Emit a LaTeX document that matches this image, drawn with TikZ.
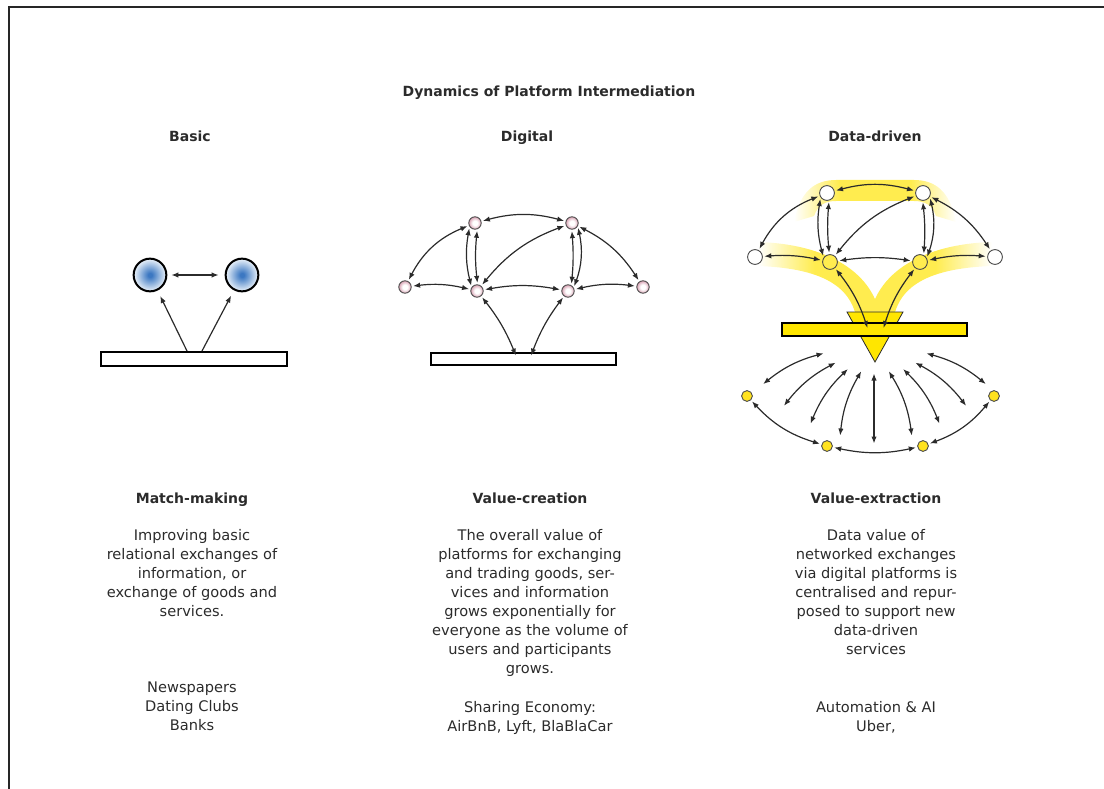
\documentclass[tikz,border=0pt]{standalone}
\usepackage{fontspec}
\setmainfont{DejaVu Sans}
\usetikzlibrary{arrows.meta}
\definecolor{platink}{HTML}{2B2B2B}
\definecolor{ballblue}{HTML}{3C78C2}
\definecolor{ballpale}{HTML}{DCE8F5}
\definecolor{ringpink}{HTML}{D8A2B3}
\definecolor{ybright}{HTML}{FFE600}
\definecolor{yband}{HTML}{FFEC4F}
\definecolor{dotyellow}{HTML}{FFE21F}
% the middle 50bp of each shading is stretched over the path
\pgfdeclareradialshading{blueball}{\pgfpointorigin}{color(0bp)=(ballblue); color(3bp)=(ballblue); color(23bp)=(ballpale); color(50bp)=(ballpale)}
\pgfdeclareradialshading{pinkball}{\pgfpointorigin}{color(0bp)=(white); color(10bp)=(white); color(25bp)=(ringpink); color(50bp)=(ringpink)}
\pgfdeclarehorizontalshading{bandL}{100bp}{color(0bp)=(white); color(25bp)=(white); color(48bp)=(yband); color(100bp)=(yband)}
\pgfdeclarehorizontalshading{bandR}{100bp}{color(0bp)=(yband); color(52bp)=(yband); color(75bp)=(white); color(100bp)=(white)}
\pgfdeclarehorizontalshading{bandLR}{100bp}{color(0bp)=(white); color(25bp)=(white); color(39bp)=(yband); color(61bp)=(yband); color(75bp)=(white); color(100bp)=(white)}
\tikzset{
  hd/.style={font=\fontsize{14}{17}\selectfont\bfseries, text=platink, inner sep=0pt, anchor=base},
  body/.style={font=\fontsize{14.6}{18.9}\selectfont, text=platink, align=center, inner sep=0pt, anchor=north},
  bball/.style={circle, draw=black, line width=2pt, minimum size=32.7pt, inner sep=0pt, shading=blueball},
  pball/.style={circle, draw=platink!85, line width=0.9pt, minimum size=12.4pt, inner sep=0pt, shading=pinkball},
  wball/.style={circle, draw=platink!85, line width=0.9pt, minimum size=14.8pt, inner sep=0pt, fill=white},
  yball/.style={wball, fill=yband},
  sball/.style={circle, draw=platink!85, line width=0.9pt, minimum size=10.8pt, inner sep=0pt, fill=dotyellow},
  plat/.style={draw=black, line width=2pt, fill=white, minimum width=185pt, minimum height=12pt, inner sep=0pt},
  arr/.style={-{Latex[length=7pt,width=5.4pt]}, line width=1.2pt, draw=platink},
  arr2/.style={{Latex[length=7pt,width=5.4pt]}-{Latex[length=7pt,width=5.4pt]}, line width=1.2pt, draw=platink, shorten <=1.5pt, shorten >=1.5pt},
}
\begin{document}
\begin{tikzpicture}[x=1pt, y=-1pt]
  \useasboundingbox (0,0) rectangle (1104,789);
  \draw[line width=2pt, black!85] (9,800) -- (9,7) -- (1110,7);

  % titles
  \node[hd] (title) at (549,96.5) {Dynamics of Platform Intermediation};
  \node[hd] (hbasic) at (190,142) {Basic};
  \node[hd] (hdigital) at (527,142) {Digital};
  \node[hd] (hdata) at (875,142) {Data-driven};

  % basic
  \node[bball] (bl) at (150,275) {};
  \node[bball] (br) at (242,275) {};
  \node[plat, minimum width=186pt, minimum height=14pt] (bbar) at (194,359) {};
  \draw[arr2, shorten <=4pt, shorten >=6pt] (bl) -- (br);
  \draw[arr, shorten >=6pt] ([xshift=-7pt]bbar.north) -- (bl);
  \draw[arr, shorten >=6pt] ([xshift=8pt]bbar.north) -- (br);

  % digital
  \node[pball] (t1) at (475,223) {};
  \node[pball] (t2) at (572,223) {};
  \node[pball] (m0) at (405,287) {};
  \node[pball] (m1) at (477,291) {};
  \node[pball] (m2) at (568,291) {};
  \node[pball] (m3) at (643,287) {};
  \node[plat] (dbar) at (523.5,359) {};
  \draw[arr2] (t1) to[bend left=15] (t2);
  \draw[arr2] (t1) to[bend right=20] (m0);
  \draw[arr2] (t1.215) to[bend right=12] (m1.145);
  \draw[arr2] (t1.290) to[bend right=6] (m1.85);
  \draw[arr2] (t2.268) to[bend left=5] (m2.60);
  \draw[arr2] (t2.330) to[bend left=16] (m2.30);
  \draw[arr2] (t2) to[bend right=15] (m1);
  \draw[arr2] (t2) to[bend left=15] (m3);
  \draw[arr2] (m0) to[bend left=10] (m1);
  \draw[arr2] (m1) to[bend left=10] (m2);
  \draw[arr2] (m2) to[bend left=10] (m3);
  \draw[arr2] (m1) to[bend left=8] ([xshift=-7pt,yshift=2pt]dbar.center);
  \draw[arr2] (m2) to[bend right=8] ([xshift=7pt,yshift=2pt]dbar.center);

  % data-driven
  \path[shading=bandLR] (794,222) .. controls (800,191) and (815,180) .. (836,180) -- (914,180)
    .. controls (935,180) and (950,191) .. (956,222) -- (936,216) .. controls (932,205) and (925,201) .. (914,201)
    -- (836,201) .. controls (825,201) and (818,205) .. (814,216) -- cycle;
  \path[shading=bandL] (758,242) .. controls (826,244) and (876,272) .. (881,322) -- (857,322)
    .. controls (852,282) and (814,268) .. (758,266) -- cycle;
  \path[shading=bandR] (992,242) .. controls (924,244) and (874,272) .. (869,322) -- (893,322)
    .. controls (898,282) and (936,268) .. (992,266) -- cycle;
  \draw[draw=platink, line width=0.8pt, fill=ybright] (847,312) -- (903,312) -- (875,362) -- cycle;
  \node[plat, fill=ybright, minimum height=13pt] (ybar) at (874.5,329.5) {};
  \node[wball] (u1) at (827,193) {};
  \node[wball] (u2) at (923,193) {};
  \node[wball] (w0) at (755,257) {};
  \node[yball] (w1) at (830,262) {};
  \node[yball] (w2) at (920,262) {};
  \node[wball] (w3) at (995,257) {};
  \draw[arr2] (u1) to[bend left=15] (u2);
  \draw[arr2] (u1) to[bend right=20] (w0);
  \draw[arr2] (u1.215) to[bend right=12] (w1.145);
  \draw[arr2] (u1.285) to[bend right=5] (w1.95);
  \draw[arr2] (u2.268) to[bend left=5] (w2.62);
  \draw[arr2] (u2.330) to[bend left=16] (w2.30);
  \draw[arr2] (u2) to[bend right=15] (w1);
  \draw[arr2] (u2) to[bend left=15] (w3);
  \draw[arr2] (w0) to[bend left=8] (w1);
  \draw[arr2] (w1) to[bend left=8] (w2);
  \draw[arr2] (w2) to[bend left=8] (w3);
  \draw[arr2] (w1) to[bend left=10] ([xshift=-6.5pt]ybar.center);
  \draw[arr2] (w2) to[bend right=10] ([xshift=8.5pt]ybar.center);

  % spread below the platform
  \node[sball] (v0) at (747,396) {};
  \node[sball] (v1) at (827,446) {};
  \node[sball] (v2) at (923,446) {};
  \node[sball] (v3) at (994,396) {};
  \draw[arr2] (v0) to[bend right=15] (v1);
  \draw[arr2] (v1) to[bend right=12] (v2);
  \draw[arr2] (v2) to[bend right=15] (v3);
  \foreach \n/\ax/\ay/\bx/\by in {1/825/353/762/385, 2/837/362/783/407, 3/849/368/810/425,
    4/862/370/840/437, 5/874/372/874/445, 6/888/370/912/437, 7/902/368/940/425,
    8/914/362/967/407, 9/925/353/987/385} {
    \coordinate (fa\n) at (\ax,\ay);
    \coordinate (fb\n) at (\bx,\by);
  }
  \foreach \n in {1,...,4} \draw[arr2] (fa\n) to[bend right=12] (fb\n);
  \draw[arr2] (fa5) -- (fb5);
  \foreach \n in {6,...,9} \draw[arr2] (fa\n) to[bend left=12] (fb\n);

  % captions
  \node[hd] (cbasic) at (192,503) {Match-making};
  \node[hd] (cdigital) at (530,503) {Value-creation};
  \node[hd] (cdata) at (876,503) {Value-extraction};
  \node[body] (tbasic) at (192,529.5) {Improving basic\\relational exchanges of\\information, or\\exchange of goods and\\services.};
  \node[body] (tdigital) at (530,529.5) {The overall value of\\platforms for exchanging\\and trading goods, ser-\\vices and information\\grows exponentially for\\everyone as the volume of\\users and participants\\grows.};
  \node[body] (tdata) at (876,529.5) {Data value of\\networked exchanges\\via digital platforms is\\centralised and repur-\\posed to support new\\data-driven\\services};
  \node[body] (ebasic) at (192,681.5) {Newspapers\\Dating Clubs\\Banks};
  \node[body] (edigital) at (530,701) {Sharing Economy:\\AirBnB, Lyft, BlaBlaCar};
  \node[body] (edata) at (876,701) {Automation \& AI\\Uber,};
\end{tikzpicture}
\end{document}
